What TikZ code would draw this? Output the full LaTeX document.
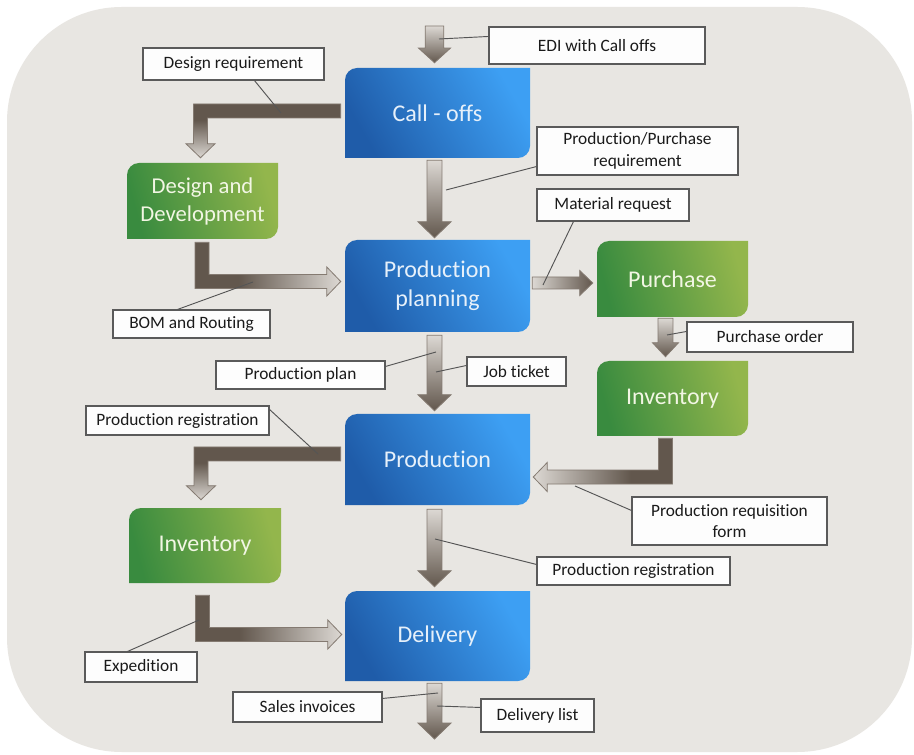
\documentclass[tikz,border=0pt]{standalone}
\usepackage{fontspec}
\setmainfont{Carlito}[Ligatures=NoCommon]
\usetikzlibrary{calc,shadows}

\definecolor{bgCol}{HTML}{E8E6E2}
\definecolor{blueDark}{HTML}{1F5CA9}
\definecolor{blueLight}{HTML}{3D9FF3}
\definecolor{greenDark}{HTML}{398B3F}
\definecolor{greenLight}{HTML}{93B64C}
\definecolor{blueText}{HTML}{E6F0FA}
\definecolor{greenText}{HTML}{F2F6E4}
\definecolor{arrDark}{HTML}{62574D}
\definecolor{arrLight}{HTML}{DCD8D3}
\definecolor{arrEdge}{HTML}{847A71}
\definecolor{noteEdge}{HTML}{5A5A5A}
\definecolor{noteFill}{HTML}{FDFDFD}
\definecolor{noteText}{HTML}{1A1A1A}
\definecolor{calloutCol}{HTML}{555555}

% dark for the first leg of an elbow arrow, fading towards the head
\pgfdeclareverticalshading{legshade}{100bp}{color(0bp)=(arrLight); color(25bp)=(arrLight); color(60bp)=(arrDark); color(100bp)=(arrDark)}

% corner radius of the process boxes
\def\Rc{12}
% elbow arrow: half shaft, half head, head length
\def\Ls{5.25pt}
\def\Lw{10.9pt}
\def\Lh{10.5pt}

% process box: name, x1, y1, x2, y2, shape look, text look, text
\newcommand\procbox[8]{%
  \path[#6] (#2,#5) -- (#2,{#3+\Rc}) arc[start angle=180,end angle=270,radius=\Rc]
    -- (#4,#3) -- (#4,{#5-\Rc}) arc[start angle=0,end angle=90,radius=\Rc] -- cycle;
  \node[#7, minimum width={(#4-#2)*0.75pt}, minimum height={(#5-#3)*0.75pt}]
    (#1) at ({(#2+#4)/2},{(#3+#5)/2}) {#8};}

% note box: name, x1, y1, x2, y2, text
\newcommand\notebox[6]{%
  \node[note, minimum width={(#4-#2)*0.75pt}, minimum height={(#5-#3)*0.75pt}]
    (#1) at ({(#2+#4)/2},{(#3+#5)/2}) {#6};}

% straight block arrow pointing down: look, start, tip, half shaft, half head, head length
\newcommand\vflow[6]{%
  \path[#1] let \p1=#2, \p2=#3 in
    (\x1-#4,\y1) -- (\x1+#4,\y1) -- (\x1+#4,\y2+#6) -- (\x1+#5,\y2+#6) -- (\x1,\y2)
    -- (\x1-#5,\y2+#6) -- (\x1-#4,\y2+#6) -- cycle;}

% straight block arrow pointing right
\newcommand\hflow[6]{%
  \path[#1] let \p1=#2, \p2=#3 in
    (\x1,\y1+#4) -- (\x2-#6,\y1+#4) -- (\x2-#6,\y1+#5) -- (\x2,\y1)
    -- (\x2-#6,\y1-#5) -- (\x2-#6,\y1-#4) -- (\x1,\y1-#4) -- cycle;}

% elbow arrow: leftwards, then down
\newcommand\leftdownflow[3]{%
  \path[#1] let \p1=#2, \p2=#3 in
    (\x1,\y1+\Ls) -- (\x2-\Ls,\y1+\Ls) -- (\x2-\Ls,\y2+\Lh) -- (\x2-\Lw,\y2+\Lh) -- (\x2,\y2)
    -- (\x2+\Lw,\y2+\Lh) -- (\x2+\Ls,\y2+\Lh) -- (\x2+\Ls,\y1-\Ls) -- (\x1,\y1-\Ls) -- cycle;}

% elbow arrow: down, then rightwards
\newcommand\downrightflow[3]{%
  \path[#1] let \p1=#2, \p2=#3 in
    (\x1-\Ls,\y1) -- (\x1-\Ls,\y2-\Ls) -- (\x2-\Lh,\y2-\Ls) -- (\x2-\Lh,\y2-\Lw) -- (\x2,\y2)
    -- (\x2-\Lh,\y2+\Lw) -- (\x2-\Lh,\y2+\Ls) -- (\x1+\Ls,\y2+\Ls) -- (\x1+\Ls,\y1) -- cycle;}

% elbow arrow: down, then leftwards
\newcommand\downleftflow[3]{%
  \path[#1] let \p1=#2, \p2=#3 in
    (\x1+\Ls,\y1) -- (\x1+\Ls,\y2-\Ls) -- (\x2+\Lh,\y2-\Ls) -- (\x2+\Lh,\y2-\Lw) -- (\x2,\y2)
    -- (\x2+\Lh,\y2+\Lw) -- (\x2+\Lh,\y2+\Ls) -- (\x1-\Ls,\y2+\Ls) -- (\x1-\Ls,\y1) -- cycle;}

\begin{document}
\begin{tikzpicture}[x=0.75pt,y=-0.75pt,
  bluebox/.style={top color=blueLight,bottom color=blueDark,shading angle=-60},
  greenbox/.style={top color=greenLight,bottom color=greenDark,shading angle=-75},
  boxtext/.style={inner sep=0pt,align=center,font=\fontsize{18}{21.5}\selectfont},
  bluetext/.style={boxtext,text=blueText},
  greentext/.style={boxtext,text=greenText},
  note/.style={draw=noteEdge,line width=0.8pt,fill=noteFill,inner sep=0pt,align=center,
    text=noteText,font=\fontsize{13}{16}\selectfont,
    drop shadow={shadow xshift=1pt,shadow yshift=-1pt,opacity=0.18}},
  callout/.style={draw=calloutCol,line width=0.7pt},
  blockflow/.style={draw=arrEdge,line width=0.6pt,line join=miter},
  flowdown/.style={blockflow,top color=arrLight,bottom color=arrDark},
  flowright/.style={blockflow,top color=arrLight,bottom color=arrDark,shading angle=90},
  legdown/.style={blockflow,shade,shading=legshade},
  legright/.style={blockflow,shade,shading=legshade,shading angle=90},
  legleft/.style={blockflow,shade,shading=legshade,shading angle=-90},
]
% canvas and panel
\fill[white] (0,0) rectangle (914,755);
\useasboundingbox (0,0) rectangle (914,755);
\fill[bgCol,rounded corners=86pt] (7,7) rectangle (912,752);

% process boxes
\procbox{callOffs}{345}{68}{530}{158}{bluebox}{bluetext}{Call - offs}
\procbox{design}{127}{163}{278}{239}{greenbox}{greentext,font=\fontsize{17}{21}\selectfont}{Design and\\Development}
\procbox{planning}{345}{240}{530}{332}{bluebox}{bluetext}{Production\\planning}
\procbox{purchase}{597}{241}{748}{317}{greenbox}{greentext}{Purchase}
\procbox{invRight}{597}{361}{748}{436}{greenbox}{greentext}{Inventory}
\procbox{production}{345}{414}{530}{505}{bluebox}{bluetext}{Production}
\procbox{invLeft}{129}{508}{281}{583}{greenbox}{greentext}{Inventory}
\procbox{delivery}{345}{591}{530}{681}{bluebox}{bluetext}{Delivery}

% loose ends of the main flow
\coordinate (ediIn) at (434.5,26);
\coordinate (salesOut) at (434.5,739);

% straight flows
\vflow{flowdown}{(ediIn)}{($(callOffs.north)+(-3,-5)$)}{7pt}{12pt}{11pt}
\vflow{flowdown}{($(callOffs.south)+(-3,2)$)}{($(planning.north)+(-3,-2)$)}{5.6pt}{12.4pt}{12pt}
\vflow{flowdown}{($(planning.south)+(-3,3)$)}{($(production.north)+(-3,-3)$)}{5.6pt}{12.4pt}{12pt}
\vflow{flowdown}{($(production.south)+(-3,4)$)}{($(delivery.north)+(-3,-4)$)}{5.6pt}{12.4pt}{12pt}
\vflow{flowdown}{($(delivery.south)+(-3,2)$)}{(salesOut)}{5.6pt}{12.4pt}{12pt}
\vflow{flowdown}{($(purchase.south)+(-7,1)$)}{($(invRight.north)+(-7,-4)$)}{5.6pt}{9.75pt}{10.5pt}
\hflow{flowright}{($(planning.east)+(2,-3)$)}{($(purchase.west)+(-4,4)$)}{4.5pt}{9.4pt}{9.75pt}

% elbow flows
\leftdownflow{legdown}{($(callOffs.west)+(-4,-2)$)}{($(design.north)+(-2,-5)$)}
\downrightflow{legright}{($(design.south)+(-0.5,3)$)}{($(planning.west)+(-4,-4.5)$)}
\downleftflow{legleft}{($(invRight.south)+(-7,2)$)}{($(production.east)+(3,17.5)$)}
\leftdownflow{legdown}{($(production.west)+(-4,-5.5)$)}{($(invLeft.north)+(-4,-8)$)}
\downrightflow{legright}{($(invLeft.south)+(-2.5,12)$)}{($(delivery.west)+(-3,-1.5)$)}

% note boxes
\notebox{ediNote}{489}{27}{705}{64}{EDI with Call offs}
\notebox{designNote}{143}{48}{324}{80}{Design requirement}
\notebox{ppNote}{537}{127}{738}{175}{Production/Purchase\\requirement}
\notebox{materialNote}{537}{189}{689}{221}{Material request}
\notebox{bomNote}{113}{310}{270}{338}{BOM and Routing}
\notebox{orderNote}{687}{322}{853}{352}{Purchase order}
\notebox{planNote}{216}{361}{385}{389}{Production plan}
\notebox{jobNote}{467}{357}{566}{386}{Job ticket}
\notebox{regNote}{86}{406}{269}{435}{Production registration}
\notebox{reqNote}{632}{497}{827}{545}{Production requisition\\form}
\notebox{regNoteB}{537}{557}{730}{585}{Production registration}
\notebox{expNote}{85}{652}{197}{682}{Expedition}
\notebox{salesNote}{233}{692}{382}{722}{Sales invoices}
\notebox{listNote}{481}{699}{594}{732}{Delivery list}

% points on the flows that the notes refer to
\coordinate (pEdi) at (439,39);
\coordinate (pDesign) at (281,113);
\coordinate (pPlanIn) at (446,190);
\coordinate (pMaterial) at (543,285);
\coordinate (pBom) at (253,282);
\coordinate (pOrder) at (667,335);
\coordinate (pPlan) at (436,352);
\coordinate (pJob) at (436,372);
\coordinate (pReg) at (318,454);
\coordinate (pReq) at (575,486);
\coordinate (pRegB) at (435,539);
\coordinate (pExp) at (199,620);
\coordinate (pSales) at (438,693);
\coordinate (pList) at (437,706);

% callout lines
\draw[callout] ($(ediNote.north west)+(0,10)$) -- (pEdi);
\draw[callout] ($(designNote.south west)+(112,0)$) -- (pDesign);
\draw[callout] ($(ppNote.south west)+(0,-9)$) -- (pPlanIn);
\draw[callout] ($(materialNote.south west)+(37,0)$) -- (pMaterial);
\draw[callout] ($(bomNote.north west)+(65,0)$) -- (pBom);
\draw[callout] ($(orderNote.north west)+(0,10)$) -- (pOrder);
\draw[callout] ($(planNote.north east)+(0,6)$) -- (pPlan);
\draw[callout] ($(jobNote.north west)+(0,9)$) -- (pJob);
\draw[callout] ($(regNote.north east)+(0,4)$) -- (pReg);
\draw[callout] ($(reqNote.north west)+(0,14)$) -- (pReq);
\draw[callout] ($(regNoteB.north west)+(0,8)$) -- (pRegB);
\draw[callout] ($(expNote.north west)+(43,0)$) -- (pExp);
\draw[callout] ($(salesNote.north east)+(0,7)$) -- (pSales);
\draw[callout] ($(listNote.north west)+(0,9)$) -- (pList);
\end{tikzpicture}
\end{document}
